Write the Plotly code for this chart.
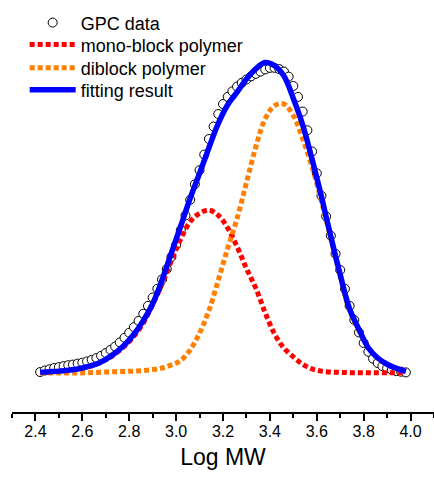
import plotly.graph_objects as go

# ---- data ----
gpc_x = [2.42, 2.44, 2.46, 2.48, 2.50, 2.52, 2.54, 2.56, 2.58, 2.60,
         2.62, 2.64, 2.66, 2.68, 2.70, 2.72, 2.74, 2.76, 2.78, 2.80,
         2.82, 2.84, 2.86, 2.88, 2.90, 2.92, 2.94, 2.96, 2.98, 3.00,
         3.02, 3.04, 3.06, 3.08, 3.10, 3.12, 3.14, 3.16, 3.18, 3.20,
         3.22, 3.24, 3.26, 3.28, 3.30, 3.32, 3.34, 3.36, 3.38, 3.40,
         3.42, 3.44, 3.46, 3.48, 3.50, 3.52, 3.54, 3.56, 3.58, 3.60,
         3.62, 3.64, 3.66, 3.68, 3.70, 3.72, 3.74, 3.76, 3.78, 3.80,
         3.82, 3.84, 3.86, 3.88, 3.90, 3.92, 3.94, 3.96, 3.98]
gpc_y = [0.003, 0.008, 0.012, 0.016, 0.019, 0.022, 0.025, 0.027, 0.030, 0.033,
         0.037, 0.042, 0.048, 0.055, 0.064, 0.074, 0.085, 0.098, 0.113, 0.129,
         0.147, 0.167, 0.190, 0.215, 0.242, 0.270, 0.300, 0.333, 0.372, 0.410,
         0.458, 0.505, 0.555, 0.605, 0.650, 0.700, 0.750, 0.790, 0.830, 0.862,
         0.885, 0.903, 0.918, 0.930, 0.941, 0.951, 0.959, 0.966, 0.973, 0.978,
         0.978, 0.974, 0.966, 0.950, 0.920, 0.885, 0.838, 0.778, 0.710, 0.640,
         0.568, 0.502, 0.440, 0.382, 0.330, 0.270, 0.215, 0.170, 0.130, 0.096,
         0.068, 0.046, 0.032, 0.022, 0.015, 0.010, 0.006, 0.004, 0.002]

curve_x = [2.42, 2.46, 2.50, 2.54, 2.58, 2.62, 2.66, 2.70, 2.74, 2.78,
           2.82, 2.86, 2.90, 2.94, 2.98, 3.02, 3.06, 3.10, 3.14, 3.18,
           3.22, 3.26, 3.30, 3.34, 3.38, 3.42, 3.46, 3.50, 3.54, 3.58,
           3.62, 3.66, 3.70, 3.74, 3.78, 3.82, 3.86, 3.90, 3.94, 3.98]
mono_y = [0.001, 0.002, 0.004, 0.007, 0.011, 0.018, 0.028, 0.042, 0.061, 0.086,
          0.118, 0.160, 0.220, 0.285, 0.360, 0.430, 0.485, 0.512, 0.522, 0.505,
          0.465, 0.405, 0.335, 0.272, 0.193, 0.125, 0.080, 0.052, 0.028, 0.013,
          0.006, 0.003, 0.002, 0.001, 0.001, 0.001, 0.001, 0.001, 0.001, 0.001]
diblock_y = [0.000, 0.000, 0.000, 0.000, 0.000, 0.001, 0.002, 0.003, 0.004, 0.005,
             0.006, 0.008, 0.011, 0.016, 0.026, 0.040, 0.074, 0.128, 0.200, 0.298,
             0.400, 0.495, 0.610, 0.725, 0.815, 0.857, 0.862, 0.825, 0.750, 0.660,
             0.550, 0.430, 0.310, 0.200, 0.135, 0.082, 0.048, 0.027, 0.014, 0.005]
fit_y = [0.002, 0.004, 0.006, 0.009, 0.013, 0.020, 0.029, 0.044, 0.064, 0.090,
         0.124, 0.168, 0.222, 0.298, 0.385, 0.472, 0.560, 0.640, 0.722, 0.800,
         0.860, 0.900, 0.942, 0.975, 0.995, 0.985, 0.952, 0.880, 0.795, 0.685,
         0.565, 0.437, 0.315, 0.205, 0.140, 0.080, 0.048, 0.028, 0.015, 0.005]

tick_vals = [2.4, 2.6, 2.8, 3.0, 3.2, 3.4, 3.6, 3.8, 4.0]
tick_text = ["2.4", "2.6", "2.8", "3.0", "3.2", "3.4", "3.6", "3.8", "4.0"]

FONT = "Liberation Sans, Arial, sans-serif"

fig = go.Figure()
fig.add_trace(go.Scatter(
    x=gpc_x, y=gpc_y, mode="markers", name="GPC data", legend="legend",
    marker=dict(symbol="circle", size=9, color="white",
                line=dict(color="black", width=1))))
fig.add_trace(go.Scatter(
    x=curve_x, y=mono_y, mode="lines", name="mono-block polymer", legend="legend2",
    line=dict(color="#ff0000", width=5, dash="5px,3px", shape="spline")))
fig.add_trace(go.Scatter(
    x=curve_x, y=diblock_y, mode="lines", name="diblock polymer", legend="legend3",
    line=dict(color="#ff8000", width=5, dash="5px,3px", shape="spline")))
fig.add_trace(go.Scatter(
    x=curve_x, y=fit_y, mode="lines", name="fitting result", legend="legend4",
    line=dict(color="#0000ff", width=5.5, shape="spline")))

def leg(yv):
    return dict(x=0.03, y=yv, xanchor="left", yanchor="middle",
                bgcolor="rgba(0,0,0,0)", borderwidth=0, itemwidth=46,
                font=dict(family=FONT, size=18, color="black"))

fig.update_layout(
    width=434, height=477,
    margin=dict(l=12, r=0, t=5, b=65),
    paper_bgcolor="white", plot_bgcolor="white",
    font=dict(family=FONT, color="black"),
    showlegend=True,
    legend=leg(0.956), legend2=leg(0.902), legend3=leg(0.845), legend4=leg(0.791),
    xaxis=dict(
        range=[2.3, 4.1], showgrid=False, zeroline=False,
        showline=True, linecolor="black", linewidth=1.5,
        ticks="outside", ticklen=7, tickwidth=1.5, tickcolor="black",
        tickvals=tick_vals, ticktext=tick_text,
        tickfont=dict(family=FONT, size=16, color="black"),
        ticklabelstandoff=-3,
        minor=dict(ticks="outside", ticklen=4, tickwidth=1.5, tickcolor="black",
                   dtick=0.1, tick0=2.3, showgrid=False),
        title=dict(text="Log MW", font=dict(family=FONT, size=23, color="black"),
                   standoff=10)),
    yaxis=dict(range=[-0.125, 1.1795], visible=False, showgrid=False, zeroline=False),
)

fig.write_html("out.html")
